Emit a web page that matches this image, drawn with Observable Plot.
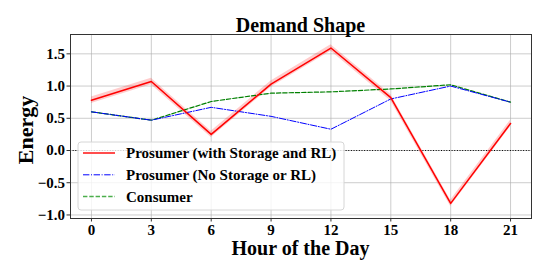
<!DOCTYPE html>
<html>
<head>
<meta charset="utf-8">
<script src="https://cdn.jsdelivr.net/npm/d3@7"></script>
<script src="https://cdn.jsdelivr.net/npm/@observablehq/plot@0.6"></script>
<style>
  body { margin: 0; background: #fff; }
  #chart svg, #chart svg text { font-family: "Liberation Serif", "Times New Roman", serif !important; font-weight: bold !important; }
</style>
</head>
<body>
<div id="chart"></div>
<script>
// ---- data ----
const hours = [0, 3, 6, 9, 12, 15, 18, 21];
const withStorageRL = [0.78, 1.07, 0.25, 1.03, 1.59, 0.82, -0.82, 0.42];
const noStorageRL = [0.60, 0.47, 0.67, 0.53, 0.33, 0.80, 1.00, 0.75];
const consumer = [0.60, 0.47, 0.76, 0.89, 0.91, 0.955, 1.02, 0.75];
const bandHalfWidth = 0.05;
const yTicks = [-1.0, -0.5, 0.0, 0.5, 1.0, 1.5];
const seriesNames = ["Prosumer (with Storage and RL)", "Prosumer (No Storage or RL)", "Consumer"];
const titleText = "Demand Shape";
const xLabel = "Hour of the Day";
const yLabel = "Energy";

const red = hours.map((h, i) => ({h, v: withStorageRL[i]}));
const blue = hours.map((h, i) => ({h, v: noStorageRL[i]}));
const green = hours.map((h, i) => ({h, v: consumer[i]}));

const fmt = d => d.toFixed(1).replace("-", "\u2212");

const W = 548, H = 274;
const chart = Plot.plot({
  width: W,
  height: H,
  marginLeft: 70,
  marginRight: 17,
  marginTop: 34,
  marginBottom: 56,
  style: {fontFamily: "Liberation Serif", fontWeight: "bold", background: "#fff", color: "#000"},
  x: {domain: [-1.05, 22.05], ticks: hours, tickFormat: d => String(d), label: null},
  y: {domain: [-1.055, 1.80], ticks: yTicks, tickFormat: fmt, label: null},
  marks: [
    Plot.gridX(hours, {stroke: "#b0b0b0", strokeOpacity: 0.7, strokeWidth: 0.9}),
    Plot.gridY(yTicks, {stroke: "#b0b0b0", strokeOpacity: 0.7, strokeWidth: 0.9}),
    Plot.ruleY([0], {stroke: "#000", strokeWidth: 1, strokeDasharray: "1,1.65"}),
    Plot.areaY(red, {x: "h", y1: d => d.v - bandHalfWidth, y2: d => d.v + bandHalfWidth, fill: "#ff0000", fillOpacity: 0.2}),
    Plot.line(green, {x: "h", y: "v", stroke: "green", strokeWidth: 1.2, strokeDasharray: "4.4,1.9"}),
    Plot.line(blue, {x: "h", y: "v", stroke: "blue", strokeWidth: 1, strokeDasharray: "6.4,1.6,1,1.6"}),
    Plot.line(red, {x: "h", y: "v", stroke: "red", strokeWidth: 1.5}),
    Plot.axisX({ticks: hours, tickFormat: d => String(d), tickSize: 3.5, tickPadding: 2, fontSize: 15, label: null, stroke: "#333", fill: "#000"}),
    Plot.axisY({ticks: yTicks, tickFormat: fmt, tickSize: 3.5, tickPadding: 2, fontSize: 15, label: null, stroke: "#333", fill: "#000"}),
    Plot.frame({stroke: "#333", strokeWidth: 1})
  ]
});
document.getElementById("chart").appendChild(chart);

// annotations: title, axis labels, legend
const svg = d3.select(chart);
const cx = (70 + (W - 17)) / 2;
const cy = (34 + (H - 56)) / 2;
svg.append("text").attr("x", cx).attr("y", 31.5).attr("text-anchor", "middle")
  .attr("font-size", 20).attr("font-weight", "bold").attr("fill", "#000").text(titleText);
svg.append("text").attr("x", cx).attr("y", 255).attr("text-anchor", "middle")
  .attr("font-size", 20).attr("font-weight", "bold").attr("fill", "#000").text(xLabel);
svg.append("text").attr("transform", `translate(33,${cy + 4}) rotate(-90)`).attr("text-anchor", "middle")
  .attr("font-size", 22).attr("font-weight", "bold").attr("fill", "#000").text(yLabel);

const lg = svg.append("g").attr("transform", "translate(78,142)");
lg.append("rect").attr("width", 266).attr("height", 68).attr("rx", 3)
  .attr("fill", "#fff").attr("fill-opacity", 0.8).attr("stroke", "#d6d6d6").attr("stroke-width", 1);
const handles = [
  {stroke: "#ff4d4d", width: 2, dash: null},
  {stroke: "blue", width: 1, dash: "6.4,1.6,1,1.6"},
  {stroke: "#4cae4c", width: 1.5, dash: "4.4,1.9"}
];
seriesNames.forEach((name, i) => {
  const yy = 11 + i * 21.8;
  lg.append("line").attr("x1", 5).attr("x2", 37).attr("y1", yy).attr("y2", yy)
    .attr("stroke", handles[i].stroke).attr("stroke-width", handles[i].width)
    .attr("stroke-dasharray", handles[i].dash);
  lg.append("text").attr("x", 48).attr("y", yy + 5.2).attr("font-size", 15)
    .attr("text-anchor", "start")
    .attr("font-weight", "bold").attr("fill", "#000").text(name);
});
</script>
</body>
</html>
